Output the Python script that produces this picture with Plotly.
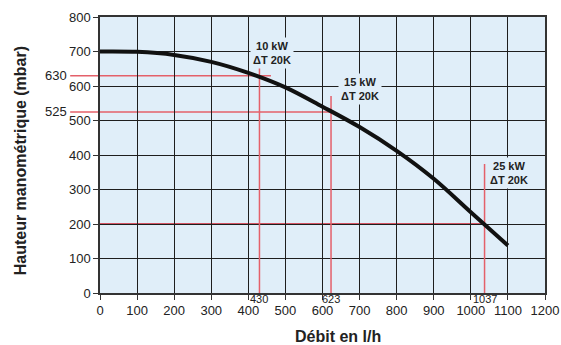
import plotly.graph_objects as go

# Pump curve
flow = [0, 100, 200, 300, 400, 500, 600, 700, 800, 900, 1000, 1100]
head = [700, 699, 690, 670, 638, 596, 540, 481, 412, 331, 234, 138]

# Duty points
duty_flow = [430, 623, 1037]
duty_head = [630, 525, 200]
duty_vline_top = [658, 571, 374]
duty_hline_end = [461, 624, 1037]
duty_side_label = ["630", "525", ""]
duty_text = ["10 kW<br>ΔT 20K", "15 kW<br>ΔT 20K", "25 kW<br>ΔT 20K"]
duty_text_x = [463, 700, 1103]
duty_text_y = [695, 590, 347]

x_ticks = list(range(0, 1201, 100))
y_ticks = list(range(0, 801, 100))
x_range = [0, 1200]
y_range = [0, 800]

BG = "#e0eef9"
RED = "#e4606a"
FONT = "Liberation Sans, Arial, sans-serif"

fig = go.Figure()
fig.add_trace(go.Scatter(
    x=flow, y=head, mode="lines", line=dict(color="#111111", width=4, shape="spline"),
    hoverinfo="skip", showlegend=False))

shapes = []
annotations = []
for fx, fy, top, hend, side, txt, tx, ty in zip(duty_flow, duty_head, duty_vline_top,
                                                 duty_hline_end, duty_side_label,
                                                 duty_text, duty_text_x, duty_text_y):
    # vertical red line
    shapes.append(dict(type="line", xref="x", yref="y", x0=fx, x1=fx, y0=0, y1=top,
                       line=dict(color=RED, width=1.5), layer="between"))
    # horizontal red line
    x0p = -0.067 if side else 0
    shapes.append(dict(type="line", xref="paper", yref="paper",
                       x0=x0p, x1=hend / x_range[1], y0=fy / y_range[1], y1=fy / y_range[1],
                       line=dict(color=RED if side else "#d02030", width=1.5), layer="between"))
    if side:
        annotations.append(dict(xref="paper", yref="y", x=-0.07, y=fy, text=side,
                                showarrow=False, xanchor="right", yanchor="middle",
                                font=dict(size=13, color="#222", family=FONT)))
    # small flow label under axis
    annotations.append(dict(xref="x", yref="paper", x=fx, y=-0.022, text=str(fx),
                            showarrow=False, xanchor="center", yanchor="middle",
                            font=dict(size=11, color="#222", family=FONT)))
    # capacity label
    annotations.append(dict(xref="x", yref="y", x=tx, y=ty, text="<b>" + txt + "</b>",
                            showarrow=False, xanchor="center", yanchor="middle",
                            bgcolor=BG, borderpad=2,
                            font=dict(size=11, color="#222", family=FONT)))

annotations.append(dict(xref="paper", yref="paper", x=0.535, y=-0.158, text="<b>Débit en l/h</b>",
                        showarrow=False, xanchor="center", yanchor="middle",
                        font=dict(size=16, color="#222", family=FONT)))
annotations.append(dict(xref="paper", yref="paper", x=-0.178, y=0.48,
                        text="<b>Hauteur manométrique (mbar)</b>", textangle=-90,
                        showarrow=False, xanchor="center", yanchor="middle",
                        font=dict(size=16, color="#222", family=FONT)))

fig.update_layout(
    width=561, height=345,
    margin=dict(l=100, r=16, t=17, b=52, autoexpand=False),
    paper_bgcolor="white", plot_bgcolor=BG,
    font=dict(family=FONT, size=13, color="#222"),
    shapes=shapes, annotations=annotations, showlegend=False,
)
fig.update_xaxes(range=x_range, tickvals=x_ticks, showgrid=True, gridcolor="#1e1e1e", gridwidth=1.3,
                 showline=True, linecolor="#333333", linewidth=1.5, mirror=True, automargin=False,
                 ticks="outside", ticklen=5, tickcolor="#333333", zeroline=False,
                 ticklabelstandoff=0, tickfont=dict(size=13))
fig.update_yaxes(range=y_range, tickvals=y_ticks, showgrid=True, gridcolor="#1e1e1e", gridwidth=1.3,
                 showline=True, linecolor="#333333", linewidth=1.5, mirror=True, automargin=False,
                 ticks="outside", ticklen=5, tickcolor="#333333", zeroline=False,
                 tickfont=dict(size=13))

fig.write_html("out.html", config={"displayModeBar": False},
               post_script="document.body.style.margin='0';document.body.style.overflow='hidden';")
